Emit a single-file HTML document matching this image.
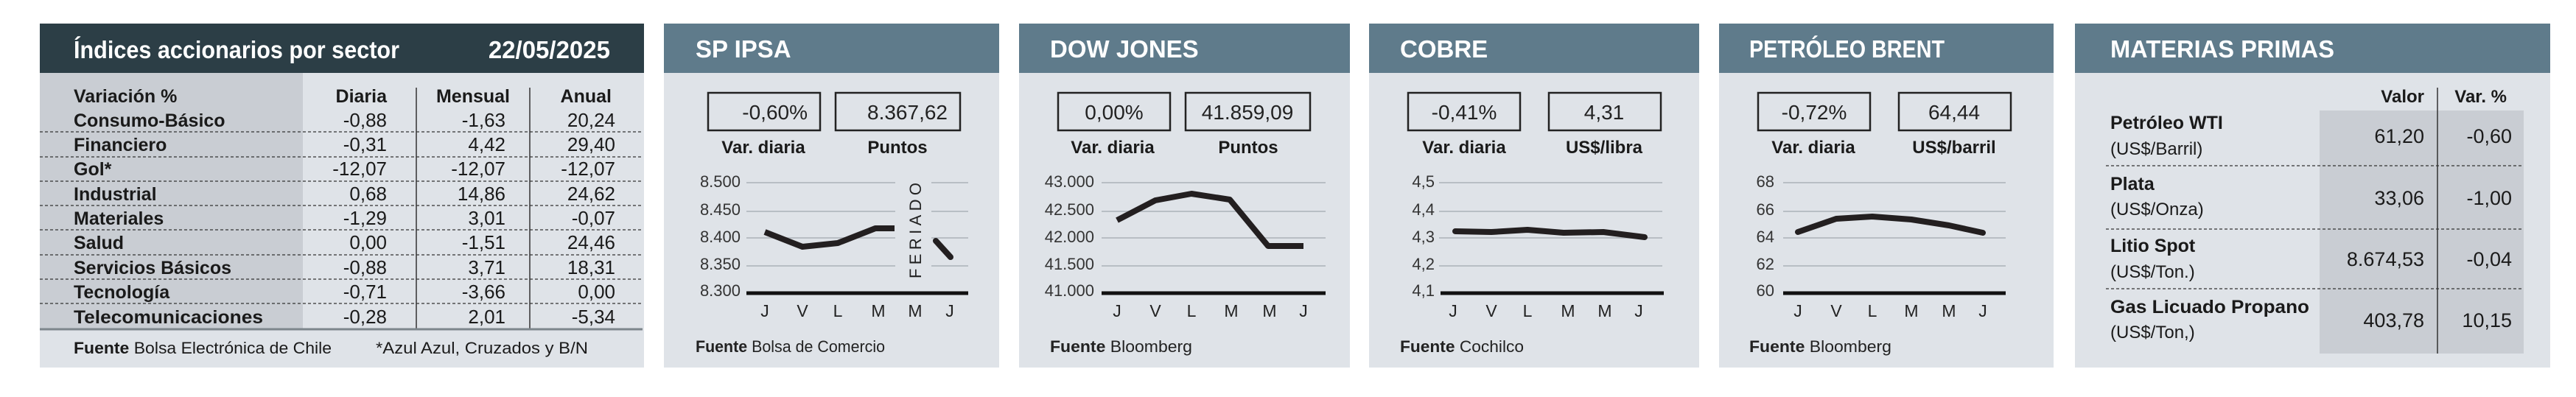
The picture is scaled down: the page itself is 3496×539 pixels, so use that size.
<!DOCTYPE html>
<html><head><meta charset="utf-8"><style>
html,body{margin:0;padding:0;background:#fff;}
svg{display:block}
text{font-family:"Liberation Sans",sans-serif;}
.b{font-weight:bold}
</style></head><body>
<svg width="3496" height="539" viewBox="0 0 3496 539" xmlns="http://www.w3.org/2000/svg">
<rect width="3496" height="539" fill="#fff"/>

<!-- PANEL 1 -->
<rect x="54" y="32" width="820" height="467" fill="#dfe3e8"/>
<rect x="54" y="99" width="357" height="348" fill="#c9cdd3"/>
<rect x="54" y="32" width="820" height="67" fill="#2c3e46"/>
<text x="100" y="79" font-size="33" class="b" fill="#fff" textLength="442" lengthAdjust="spacingAndGlyphs">Índices accionarios por sector</text>
<text x="828" y="79" font-size="33" class="b" fill="#fff" text-anchor="end">22/05/2025</text>
<line x1="565" y1="119" x2="565" y2="447" stroke="#333" stroke-width="1.5"/>
<line x1="719" y1="119" x2="719" y2="447" stroke="#333" stroke-width="1.5"/>
<g stroke="#333" stroke-width="1.3" stroke-dasharray="4,3">
<line x1="54" y1="179" x2="872" y2="179"/><line x1="54" y1="213" x2="872" y2="213"/>
<line x1="54" y1="246" x2="872" y2="246"/><line x1="54" y1="279" x2="872" y2="279"/>
<line x1="54" y1="312" x2="872" y2="312"/><line x1="54" y1="346" x2="872" y2="346"/>
<line x1="54" y1="379" x2="872" y2="379"/><line x1="54" y1="412" x2="872" y2="412"/>
</g>
<line x1="54" y1="447" x2="872" y2="447" stroke="#7d868c" stroke-width="3"/>
<g font-size="25" fill="#1a1a1a">
<g class="b">
<text x="100" y="139">Variación %</text>
<text x="525" y="139" text-anchor="end">Diaria</text>
<text x="692" y="139" text-anchor="end">Mensual</text>
<text x="830" y="139" text-anchor="end">Anual</text>
<text x="100" y="172">Consumo-Básico</text>
<text x="100" y="205">Financiero</text>
<text x="100" y="238">Gol*</text>
<text x="100" y="272">Industrial</text>
<text x="100" y="305">Materiales</text>
<text x="100" y="338">Salud</text>
<text x="100" y="372">Servicios Básicos</text>
<text x="100" y="405">Tecnología</text>
<text x="100" y="439" textLength="257" lengthAdjust="spacingAndGlyphs">Telecomunicaciones</text>
</g>
<g text-anchor="end" font-size="26">
<text x="525" y="172">-0,88</text><text x="686" y="172">-1,63</text><text x="835" y="172">20,24</text>
<text x="525" y="205">-0,31</text><text x="686" y="205">4,42</text><text x="835" y="205">29,40</text>
<text x="525" y="238">-12,07</text><text x="686" y="238">-12,07</text><text x="835" y="238">-12,07</text>
<text x="525" y="272">0,68</text><text x="686" y="272">14,86</text><text x="835" y="272">24,62</text>
<text x="525" y="305">-1,29</text><text x="686" y="305">3,01</text><text x="835" y="305">-0,07</text>
<text x="525" y="338">0,00</text><text x="686" y="338">-1,51</text><text x="835" y="338">24,46</text>
<text x="525" y="372">-0,88</text><text x="686" y="372">3,71</text><text x="835" y="372">18,31</text>
<text x="525" y="405">-0,71</text><text x="686" y="405">-3,66</text><text x="835" y="405">0,00</text>
<text x="525" y="439">-0,28</text><text x="686" y="439">2,01</text><text x="835" y="439">-5,34</text>
</g>
<text x="100" y="480" font-size="22" textLength="350" lengthAdjust="spacingAndGlyphs"><tspan class="b">Fuente</tspan> Bolsa Electrónica de Chile</text>
<text x="510" y="480" font-size="22" textLength="288" lengthAdjust="spacingAndGlyphs">*Azul Azul, Cruzados y B/N</text>
</g>

<!-- chart panel template -->
<g id="p2">
<rect x="901" y="32" width="455" height="467" fill="#dfe3e8"/>
<rect x="901" y="32" width="455" height="67" fill="#5f7b8b"/>
<text x="944" y="78" font-size="33" class="b" fill="#fff">SP IPSA</text>
<rect x="961" y="126" width="152" height="51" fill="none" stroke="#222" stroke-width="2.5"/>
<rect x="1134" y="126" width="169" height="51" fill="none" stroke="#222" stroke-width="2.5"/>
<text x="1096" y="162" font-size="28" text-anchor="end" fill="#222">-0,60%</text>
<text x="1286" y="162" font-size="28" text-anchor="end" fill="#222">8.367,62</text>
<text x="1036" y="208" font-size="24" class="b" text-anchor="middle" fill="#1a1a1a">Var. diaria</text>
<text x="1218" y="208" font-size="24" class="b" text-anchor="middle" fill="#1a1a1a">Puntos</text>
<g stroke="#b8bec4" stroke-width="2">
<line x1="1013" y1="248" x2="1215" y2="248"/><line x1="1264" y1="248" x2="1314" y2="248"/>
<line x1="1013" y1="287" x2="1215" y2="287"/><line x1="1264" y1="287" x2="1314" y2="287"/>
<line x1="1013" y1="323" x2="1215" y2="323"/><line x1="1264" y1="323" x2="1314" y2="323"/>
<line x1="1013" y1="361" x2="1215" y2="361"/><line x1="1264" y1="361" x2="1314" y2="361"/>
</g>
<line x1="1013" y1="398" x2="1314" y2="398" stroke="#111" stroke-width="5"/>
<g font-size="22" fill="#333" text-anchor="end">
<text x="1005" y="254">8.500</text><text x="1005" y="292">8.450</text><text x="1005" y="329">8.400</text><text x="1005" y="366">8.350</text><text x="1005" y="402">8.300</text>
</g>
<polyline points="1038,315 1089,335 1137,330 1188,310 1214,310" fill="none" stroke="#231f20" stroke-width="8" stroke-linejoin="round"/>
<line x1="1270" y1="327" x2="1290" y2="349" stroke="#231f20" stroke-width="8" stroke-linecap="round"/>
<text transform="translate(1250,378) rotate(-90)" font-size="22" fill="#222" textLength="130" lengthAdjust="spacing">FERIADO</text>
<g font-size="23" fill="#222" text-anchor="middle">
<text x="1038" y="430">J</text><text x="1089" y="430">V</text><text x="1137" y="430">L</text><text x="1192" y="430">M</text><text x="1242" y="430">M</text><text x="1289" y="430">J</text>
</g>
<text x="944" y="478" font-size="22" fill="#222" textLength="257" lengthAdjust="spacingAndGlyphs"><tspan class="b">Fuente</tspan> Bolsa de Comercio</text>
</g>

<!-- DOW JONES -->
<rect x="1383" y="32" width="449" height="467" fill="#dfe3e8"/>
<rect x="1383" y="32" width="449" height="67" fill="#5f7b8b"/>
<text x="1425" y="78" font-size="33" class="b" fill="#fff">DOW JONES</text>
<rect x="1436" y="126" width="152" height="51" fill="none" stroke="#222" stroke-width="2.5"/>
<rect x="1609" y="126" width="169" height="51" fill="none" stroke="#222" stroke-width="2.5"/>
<text x="1512" y="162" font-size="28" text-anchor="middle" fill="#222">0,00%</text>
<text x="1693" y="162" font-size="28" text-anchor="middle" fill="#222">41.859,09</text>
<text x="1510" y="208" font-size="24" class="b" text-anchor="middle" fill="#1a1a1a">Var. diaria</text>
<text x="1694" y="208" font-size="24" class="b" text-anchor="middle" fill="#1a1a1a">Puntos</text>
<g stroke="#b8bec4" stroke-width="2">
<line x1="1495" y1="248" x2="1799" y2="248"/><line x1="1495" y1="287" x2="1799" y2="287"/>
<line x1="1495" y1="323" x2="1799" y2="323"/><line x1="1495" y1="361" x2="1799" y2="361"/>
</g>
<line x1="1495" y1="398" x2="1799" y2="398" stroke="#111" stroke-width="5"/>
<g font-size="22" fill="#333" text-anchor="end">
<text x="1485" y="254">43.000</text><text x="1485" y="292">42.500</text><text x="1485" y="329">42.000</text><text x="1485" y="366">41.500</text><text x="1485" y="402">41.000</text>
</g>
<polyline points="1516,299 1568,272 1617,263 1669,271 1721,334 1769,334" fill="none" stroke="#231f20" stroke-width="8" stroke-linejoin="round"/>
<g font-size="23" fill="#222" text-anchor="middle">
<text x="1516" y="430">J</text><text x="1568" y="430">V</text><text x="1617" y="430">L</text><text x="1671" y="430">M</text><text x="1723" y="430">M</text><text x="1769" y="430">J</text>
</g>
<text x="1425" y="478" font-size="22" fill="#222" textLength="193" lengthAdjust="spacingAndGlyphs"><tspan class="b">Fuente</tspan> Bloomberg</text>

<!-- COBRE -->
<rect x="1858" y="32" width="448" height="467" fill="#dfe3e8"/>
<rect x="1858" y="32" width="448" height="67" fill="#5f7b8b"/>
<text x="1900" y="78" font-size="33" class="b" fill="#fff">COBRE</text>
<rect x="1911" y="126" width="152" height="51" fill="none" stroke="#222" stroke-width="2.5"/>
<rect x="2102" y="126" width="152" height="51" fill="none" stroke="#222" stroke-width="2.5"/>
<text x="1987" y="162" font-size="28" text-anchor="middle" fill="#222">-0,41%</text>
<text x="2177" y="162" font-size="28" text-anchor="middle" fill="#222">4,31</text>
<text x="1987" y="208" font-size="24" class="b" text-anchor="middle" fill="#1a1a1a">Var. diaria</text>
<text x="2177" y="208" font-size="24" class="b" text-anchor="middle" fill="#1a1a1a">US$/libra</text>
<g stroke="#b8bec4" stroke-width="2">
<line x1="1953" y1="248" x2="2256" y2="248"/><line x1="1953" y1="287" x2="2256" y2="287"/>
<line x1="1953" y1="323" x2="2256" y2="323"/><line x1="1953" y1="361" x2="2256" y2="361"/>
</g>
<line x1="1955" y1="398" x2="2258" y2="398" stroke="#111" stroke-width="5"/>
<g font-size="22" fill="#333" text-anchor="end">
<text x="1947" y="254">4,5</text><text x="1947" y="292">4,4</text><text x="1947" y="329">4,3</text><text x="1947" y="366">4,2</text><text x="1947" y="402">4,1</text>
</g>
<polyline points="1975,314 2024,315 2073,312 2122,316 2176,315 2232,322" fill="none" stroke="#231f20" stroke-width="8" stroke-linejoin="round" stroke-linecap="round"/>
<g font-size="23" fill="#222" text-anchor="middle">
<text x="1972" y="430">J</text><text x="2024" y="430">V</text><text x="2073" y="430">L</text><text x="2128" y="430">M</text><text x="2178" y="430">M</text><text x="2224" y="430">J</text>
</g>
<text x="1900" y="478" font-size="22" fill="#222" textLength="168" lengthAdjust="spacingAndGlyphs"><tspan class="b">Fuente</tspan> Cochilco</text>

<!-- BRENT -->
<rect x="2333" y="32" width="454" height="467" fill="#dfe3e8"/>
<rect x="2333" y="32" width="454" height="67" fill="#5f7b8b"/>
<text x="2374" y="78" font-size="33" class="b" fill="#fff" textLength="265" lengthAdjust="spacingAndGlyphs">PETRÓLEO BRENT</text>
<rect x="2386" y="126" width="152" height="51" fill="none" stroke="#222" stroke-width="2.5"/>
<rect x="2577" y="126" width="152" height="51" fill="none" stroke="#222" stroke-width="2.5"/>
<text x="2462" y="162" font-size="28" text-anchor="middle" fill="#222">-0,72%</text>
<text x="2652" y="162" font-size="28" text-anchor="middle" fill="#222">64,44</text>
<text x="2461" y="208" font-size="24" class="b" text-anchor="middle" fill="#1a1a1a">Var. diaria</text>
<text x="2652" y="208" font-size="24" class="b" text-anchor="middle" fill="#1a1a1a">US$/barril</text>
<g stroke="#b8bec4" stroke-width="2">
<line x1="2420" y1="248" x2="2722" y2="248"/><line x1="2420" y1="287" x2="2722" y2="287"/>
<line x1="2420" y1="323" x2="2722" y2="323"/><line x1="2420" y1="361" x2="2722" y2="361"/>
</g>
<line x1="2420" y1="398" x2="2722" y2="398" stroke="#111" stroke-width="5"/>
<g font-size="22" fill="#333" text-anchor="end">
<text x="2408" y="254">68</text><text x="2408" y="292">66</text><text x="2408" y="329">64</text><text x="2408" y="366">62</text><text x="2408" y="402">60</text>
</g>
<polyline points="2440,315 2492,297 2541,294 2594,298 2645,306 2691,316" fill="none" stroke="#231f20" stroke-width="8" stroke-linejoin="round" stroke-linecap="round"/>
<g font-size="23" fill="#222" text-anchor="middle">
<text x="2440" y="430">J</text><text x="2492" y="430">V</text><text x="2541" y="430">L</text><text x="2594" y="430">M</text><text x="2645" y="430">M</text><text x="2691" y="430">J</text>
</g>
<text x="2374" y="478" font-size="22" fill="#222" textLength="193" lengthAdjust="spacingAndGlyphs"><tspan class="b">Fuente</tspan> Bloomberg</text>

<!-- MATERIAS PRIMAS -->
<rect x="2816" y="32" width="645" height="467" fill="#dfe3e8"/>
<rect x="2816" y="32" width="645" height="67" fill="#5f7b8b"/>
<text x="2864" y="78" font-size="33" class="b" fill="#fff" textLength="304" lengthAdjust="spacingAndGlyphs">MATERIAS PRIMAS</text>
<rect x="3148" y="150" width="277" height="330" fill="#c9cdd3"/>
<line x1="3308" y1="119" x2="3308" y2="480" stroke="#333" stroke-width="1.5"/>
<g stroke="#333" stroke-width="1.3" stroke-dasharray="4,3">
<line x1="2858" y1="225" x2="3425" y2="225"/><line x1="2858" y1="311" x2="3425" y2="311"/><line x1="2858" y1="392" x2="3425" y2="392"/>
</g>
<g fill="#1a1a1a">
<text x="3290" y="139" font-size="24" class="b" text-anchor="end">Valor</text>
<text x="3402" y="139" font-size="24" class="b" text-anchor="end">Var. %</text>
<g font-size="25" class="b">
<text x="2864" y="175">Petróleo WTI</text>
<text x="2864" y="258">Plata</text>
<text x="2864" y="342">Litio Spot</text>
<text x="2864" y="425" textLength="270" lengthAdjust="spacingAndGlyphs">Gas Licuado Propano</text>
</g>
<g font-size="24">
<text x="2864" y="210">(US$/Barril)</text>
<text x="2864" y="292">(US$/Onza)</text>
<text x="2864" y="377">(US$/Ton.)</text>
<text x="2864" y="459">(US$/Ton,)</text>
</g>
<g font-size="27" text-anchor="end">
<text x="3290" y="194">61,20</text><text x="3409" y="194">-0,60</text>
<text x="3290" y="278">33,06</text><text x="3409" y="278">-1,00</text>
<text x="3290" y="361">8.674,53</text><text x="3409" y="361">-0,04</text>
<text x="3290" y="444">403,78</text><text x="3409" y="444">10,15</text>
</g>
</g>
</svg>
</body></html>
